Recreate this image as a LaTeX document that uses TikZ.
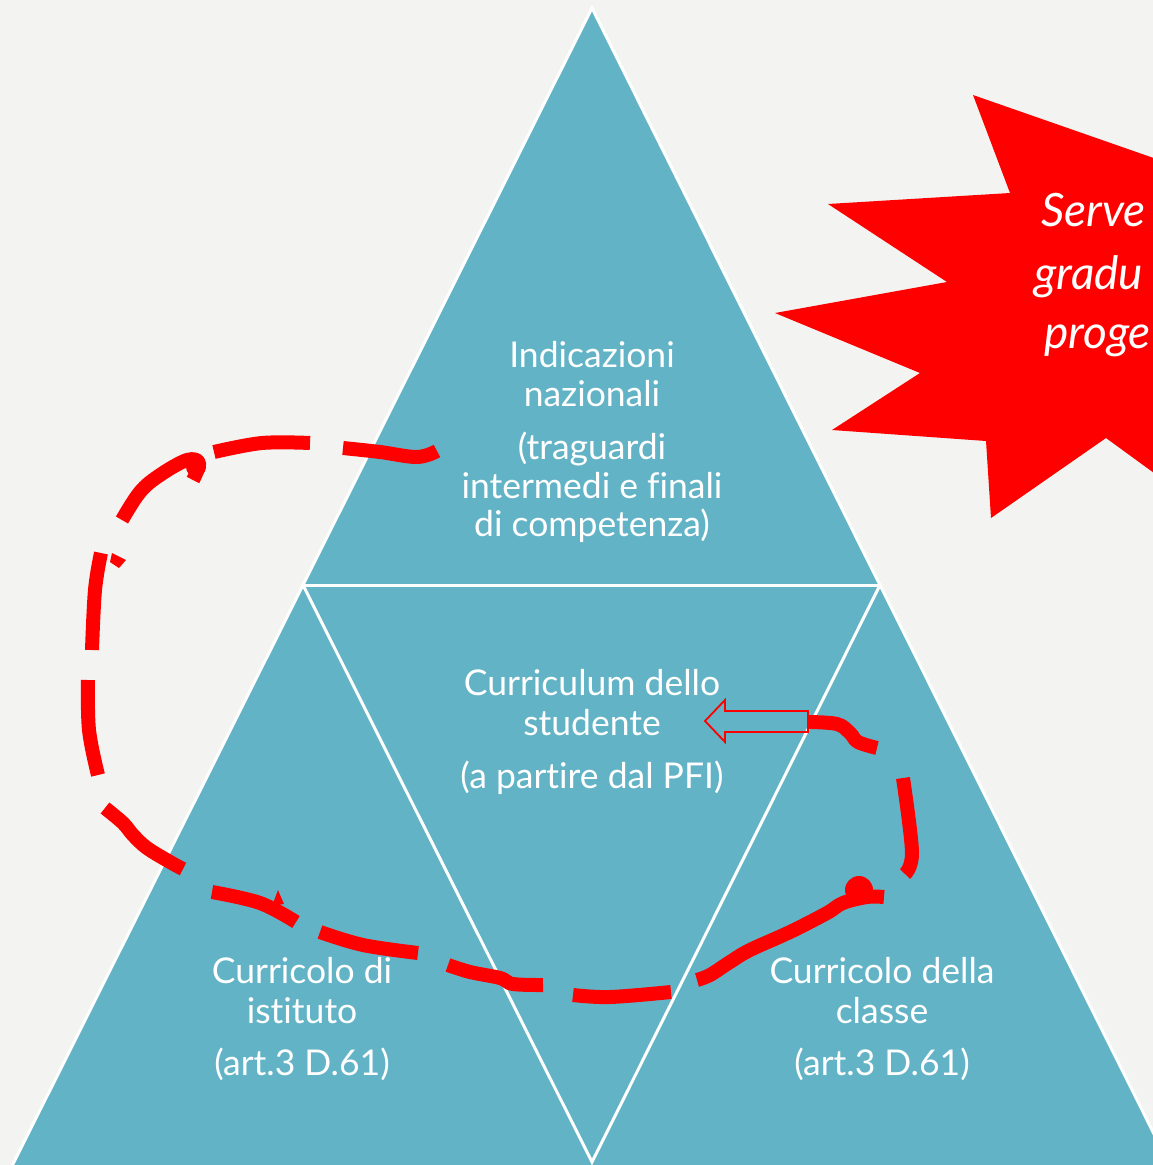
\documentclass[tikz,border=0pt]{standalone}
\usepackage{fontspec}
\setmainfont{Lato}[Ligatures=NoCommon]
\definecolor{trifill}{RGB}{99,179,198}
\definecolor{bgcol}{RGB}{243,243,241}
\definecolor{penred}{RGB}{255,0,0}
\begin{document}
\begin{tikzpicture}[x=1pt,y=-1pt,
  edge/.style={draw=white, line width=3pt, line cap=round},
  lbl/.style={text=white, anchor=base, inner sep=0pt, font=\fontsize{35.5}{40}\selectfont},
  burst/.style={text=white, anchor=base west, inner sep=0pt, font=\fontsize{46}{50}\selectfont\itshape},
  pen/.style={draw=penred, line width=14pt, line cap=butt, line join=round},
]
% page
\fill[bgcol] (0,0) rectangle (1153,1165);
\useasboundingbox (0,0) rectangle (1153,1165);
\clip (0,0) rectangle (1153,1165);

% triangle corners
\coordinate (A)  at (592,8);
\coordinate (L)  at (303,585);
\coordinate (R)  at (880,585);
\coordinate (BL) at (10,1170);
\coordinate (BM) at (592,1162);
\coordinate (BR) at (1172,1170);

% big triangle and its white dividing lines
\fill[trifill] (A) -- (BL) -- (BR) -- cycle;
\draw[edge, line join=miter] (BL) -- (A) -- (BR);
\draw[edge] (L) -- (R);
\draw[edge] (L) -- (BM) -- (R);

% starburst
\fill[penred] (973,95) -- (1010,193) -- (828,204) -- (947,282) -- (775,313)
  -- (920,373) -- (832,430) -- (986,441) -- (991,518) -- (1106,438)
  -- (1165,481) -- (1165,162) -- cycle;
\node[burst] (s1) at (1041,226) {Serve};
\node[burst] (s2) at (1034,289) {gradu};
\node[burst] (s3) at (1044,348) {proge};

% labels
\node[lbl] (t1) at (592,367) {Indicazioni};
\node[lbl] (t2) at (592,406) {nazionali};
\node[lbl] (t3) at (592,459) {(traguardi};
\node[lbl] (t4) at (592,498) {intermedi e finali};
\node[lbl] (t5) at (592,536) {di competenza)};

\node[lbl] (m1) at (592,695) {Curriculum dello};
\node[lbl] (m2) at (592,735) {studente};
\node[lbl] (m3) at (592,788) {(a partire dal PFI)};

\node[lbl] (l1) at (302,983) {Curricolo di};
\node[lbl] (l2) at (302,1023) {istituto};
\node[lbl] (l3) at (302,1075) {(art.3 D.61)};

\node[lbl] (r1) at (882,983) {Curricolo della};
\node[lbl] (r2) at (882,1023) {classe};
\node[lbl] (r3) at (882,1075) {(art.3 D.61)};

% hollow block arrow
\draw[penred, line width=1.8pt, line join=miter]
  (705,721) -- (725,700) -- (725,711) -- (808,711) -- (808,732)
  -- (725,732) -- (725,742) -- cycle;

% hand-drawn dashed loop
\draw[pen] plot[smooth, tension=0.6] coordinates {(437,451) (417,457) (380,452) (343,448)};
\draw[pen] plot[smooth, tension=0.6] coordinates {(310,443) (262,443) (214,452)};
\draw[pen] plot[smooth, tension=0.6] coordinates {(122,520) (140,492) (160,475) (187,460) (199,463) (193,480)};
\fill[penred] (196,467) circle[radius=10pt];
\draw[pen] plot[smooth, tension=0.6] coordinates {(101,553) (95,590) (92,650)};
\fill[penred] (112,553) -- (126,560) -- (119,568) -- (110,562) -- cycle;
\draw[pen] plot[smooth, tension=0.6] coordinates {(88,680) (89,730) (98,775)};
\draw[pen] plot[smooth, tension=0.6] coordinates {(105,808) (123,823) (133,835) (147,848) (170,862) (183,869)};
\draw[pen] plot[smooth, tension=0.6] coordinates {(212,892) (260,903) (296,922)};
\fill[penred] (278,890) -- (284,904) -- (272,906) -- cycle;
\draw[pen] plot[smooth, tension=0.6] coordinates {(320,932) (363,945) (418,953)};
\draw[pen] plot[smooth, tension=0.6] coordinates {(448,965) (470,972) (500,978) (513,984) (543,985)};
\draw[pen] plot[smooth, tension=0.6] coordinates {(573,995) (610,997) (671,992)};
\draw[pen] plot[smooth, tension=0.6] coordinates {(697,980) (710,975) (730,962) (750,950) (790,932) (827,913) (843,903) (867,897) (884,897)};
\fill[penred] (859,890) circle[radius=14pt];
\draw[pen] plot[smooth, tension=0.6] coordinates {(903,778) (912,852) (905,874)};
\draw[pen] plot[smooth, tension=0.6] coordinates {(808,722) (837,724) (850,733) (858,742) (877,748)};
\end{tikzpicture}
\end{document}
